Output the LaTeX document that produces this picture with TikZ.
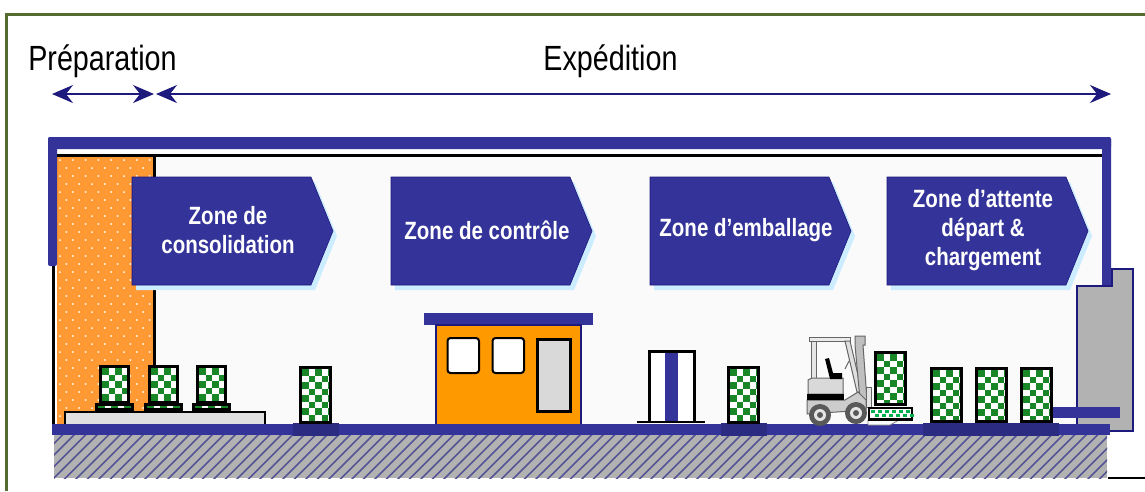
\documentclass[tikz,border=0pt]{standalone}
\usepackage{fontspec}
\setmainfont{Liberation Sans}[FakeStretch=0.82]
\usetikzlibrary{arrows.meta,positioning,calc}
\definecolor{Navy}{RGB}{51,51,153}
\definecolor{DeepNavy}{RGB}{30,25,125}
\definecolor{Olive}{RGB}{85,107,47}
\definecolor{Dotted}{RGB}{255,153,51}
\definecolor{Kiosk}{RGB}{255,153,0}
\definecolor{Slab}{RGB}{178,178,178}
\definecolor{Check}{RGB}{25,135,40}
\definecolor{Halo}{RGB}{204,236,255}
\definecolor{Hatch}{RGB}{85,85,150}
\tikzset{
  phase/.style={font=\fontsize{35}{35}\selectfont,text=black,inner sep=0pt},
  span/.style={{Stealth[length=21pt,width=18pt,inset=7pt]}-{Stealth[length=21pt,width=18pt,inset=7pt]},draw=DeepNavy,line width=2pt},
  zonelabel/.style={font=\fontsize{25}{29}\selectfont\bfseries,text=white,align=center,inner sep=0pt},
  zonebody/.style={fill=Navy,draw=DeepNavy,line width=0.6pt},
  wall/.style={fill=Navy,draw=none,rounded corners=2pt},
  crateframe/.style={draw=black,line width=2.8pt},
  footing/.style={fill=Navy!85!black,draw=none},
  pane/.style={draw=black,line width=2pt,fill=white,rounded corners=3pt},
  truckbody/.style={draw=black!60,line width=1pt}
}
% crate: left, top, right, bottom (outer edge of the frame)
\newcommand{\crate}[4]{%
  \begin{scope}
    \clip ({#1+1.4},{#2+1.4}) rectangle ({#3-1.4},{#4-1.4});
    \fill[white] (#1,#2) rectangle (#3,#4);
    \foreach \i in {0,...,6}{\foreach \j in {0,...,10}{
      \pgfmathparse{int(mod(\i+\j,2))}
      \ifnum\pgfmathresult=0
        \fill[Check] ({#1+3+\i*6.5},{#2+3+\j*6.5}) rectangle +(6.5,6.5);
      \fi}}
  \end{scope}
  \draw[crateframe] ({#1+1.4},{#2+1.4}) rectangle ({#3-1.4},{#4-1.4});
}
% chevron: name, left edge, text
\newcommand{\zone}[3]{%
  \fill[Halo] (#2+4,182) -- (#2+183,182) -- (#2+205,236) -- (#2+183,290) -- (#2+4,290) -- cycle;
  \fill[zonebody] (#2,177) -- (#2+179,177) -- (#2+201,231) -- (#2+179,285) -- (#2,285) -- cycle;
  \node[zonelabel] (#1) at (#2+96,230) {#3};
}
\begin{document}
\begin{tikzpicture}[x=1pt,y=-1pt]
\useasboundingbox (0,0) rectangle (1145,491);
\draw[Olive,line width=3pt] (1145,14) -- (6,14) -- (6,491);

% headings and their spans
\node[phase] (prep) at (102.5,61) {Préparation};
\node[phase] (exped) at (610.5,61) {Expédition};
\coordinate (prepL) at (52,94);
\coordinate (prepR) at (154,94);
\coordinate (expL) at (156,94);
\coordinate (expR) at (1111,94);
\draw[span] (prepL) -- (prepR);
\draw[span] (expL) -- (expR);

% hall
\fill[black!2] (57,157) rectangle (1102,425);
\fill[Dotted] (57,157) rectangle (154,425);
\begin{scope}
  \clip (57,157) rectangle (154,425);
  \foreach \r in {0,...,33}{\foreach \c in {0,...,8}{
    \pgfmathsetmacro{\dx}{mod(\r,2)*6.4}
    \fill[white] ({60+\dx+\c*12.8},{160+\r*8}) circle (1);
  }}
\end{scope}
\draw[black,line width=2.8pt] (154.5,155) -- (154.5,425);
\draw[black,line width=3.4pt] (53.5,262) -- (53.5,425);
\draw[black,line width=3pt] (57,155.5) -- (1102,155.5);
\fill[wall] (48,137) rectangle (1111,149);
\fill[wall] (48,137) rectangle (57,266);
\fill[wall] (1102,137) rectangle (1111,288);

% dock and truck
\draw[fill=Slab,draw=DeepNavy,line width=2.4pt] (1077,431) -- (1077,286) -- (1112,286) -- (1112,269) -- (1133,269) -- (1133,431) -- cycle;
\fill[Navy] (1053,407) rectangle (1120,418);

% floor
\fill[Slab] (54,435) rectangle (1107,478);
\begin{scope}
  \clip (54,435) rectangle (1107,478);
  \foreach \h in {0,...,100}{
    \draw[Hatch,line width=1.5pt] ({6+\h*11.5},480) -- ++(46,-46);
  }
\end{scope}
\fill[Navy] (52,424) rectangle (1110,435);
\draw[black,line width=2pt] (1108,478) -- (1145,478);

% zones
\zone{consolidation}{132}{Zone de\\consolidation}
\zone{controle}{391}{Zone de contrôle}
\zone{emballage}{650}{Zone d’emballage}
\zone{attente}{887}{Zone d’attente\\départ \&\\chargement}

% platform with three pallets
\draw[draw=black,line width=2.6pt,fill=black!12] (65,424) -- (65,412) -- (265,412) -- (265,424);
\foreach \px in {99,148,196}{
  \crate{\px}{365}{\px+31}{404}
  \crate{\px-4}{403}{\px+35}{411}
}

% loose crates with their footings
\foreach \px in {299,727}{
  \fill[footing] (\px-6,423) rectangle (\px+40,436);
  \crate{\px}{366}{\px+33}{424}
}
\fill[footing] (923,423) rectangle (1059,436);
\foreach \px in {930,975,1020}{
  \crate{\px}{367}{\px+33}{423}
}

% control cabin
\fill[Navy] (424,313) rectangle (593,325);
\draw[fill=Kiosk,draw=DeepNavy,line width=2pt] (436,424) -- (436,325) -- (581,325) -- (581,424);
\draw[pane] (447.5,338) rectangle (479,373);
\draw[pane] (492.5,338) rectangle (524,373);
\draw[fill=black!15,draw=black,line width=3pt] (537,339) rectangle (570,411);

% packing post
\fill[white] (649,352) rectangle (695,422);
\fill[Navy] (665,351) rectangle (678,422);
\draw[black,line width=2.6pt] (649.5,422) -- (649.5,351.5) -- (694.5,351.5) -- (694.5,422);
\draw[black,line width=2pt] (637,422) -- (705,422);

% forklift
\draw[truckbody,fill=black!10] (811,341) rectangle (816,379);
\draw[truckbody,fill=black!8] (809,337) rectangle (850,341);
\draw[truckbody,fill=black!12] (845,341) -- (850,341) -- (862,392) -- (857,392) -- cycle;
\draw[truckbody,fill=black!25] (855,336) -- (865,336) -- (865,345) -- (863,345) -- (867,400) -- (860,400) -- (855,345) -- cycle;
\draw[truckbody,fill=black!15] (808,380) -- (812,378) -- (843,378) -- (843,394) -- (808,394) -- cycle;
\fill[black] (825,359) -- (829,358) -- (833,373) -- (842,373) -- (842,379) -- (830,379) -- cycle;
\draw[truckbody] (845,369) -- (849,361);
\draw[truckbody,fill=black!20] (807,400) -- (845,400) -- (858,392) -- (866,400) -- (866,410) -- (807,414) -- cycle;
\fill[black] (807,394) -- (844,394) -- (844,400) -- (807,400) -- cycle;
\draw[truckbody,fill=black!10] (866,387) rectangle (871,407);
\foreach \wx/\wy in {820/415,856/413}{
  \fill[black!65] (\wx,\wy) circle (11);
  \fill[black!10] (\wx,\wy) circle (6);
  \fill[black!65] (\wx,\wy) circle (3);
}
\draw[black!50,line width=0.8pt,fill=white] (868,420) -- (868,425) -- (890,425) -- (899,420) -- cycle;
\crate{874}{351}{907}{406}
\draw[black,line width=2.8pt,fill=white] (869,408) rectangle (912,419.5);
\foreach \t in {0,...,5}{
  \fill[teal!60!green] ({871+\t*7},410) rectangle +(4,3);
  \fill[teal!60!green] ({874.5+\t*7},414) rectangle +(4,3);
}
\end{tikzpicture}
\end{document}
